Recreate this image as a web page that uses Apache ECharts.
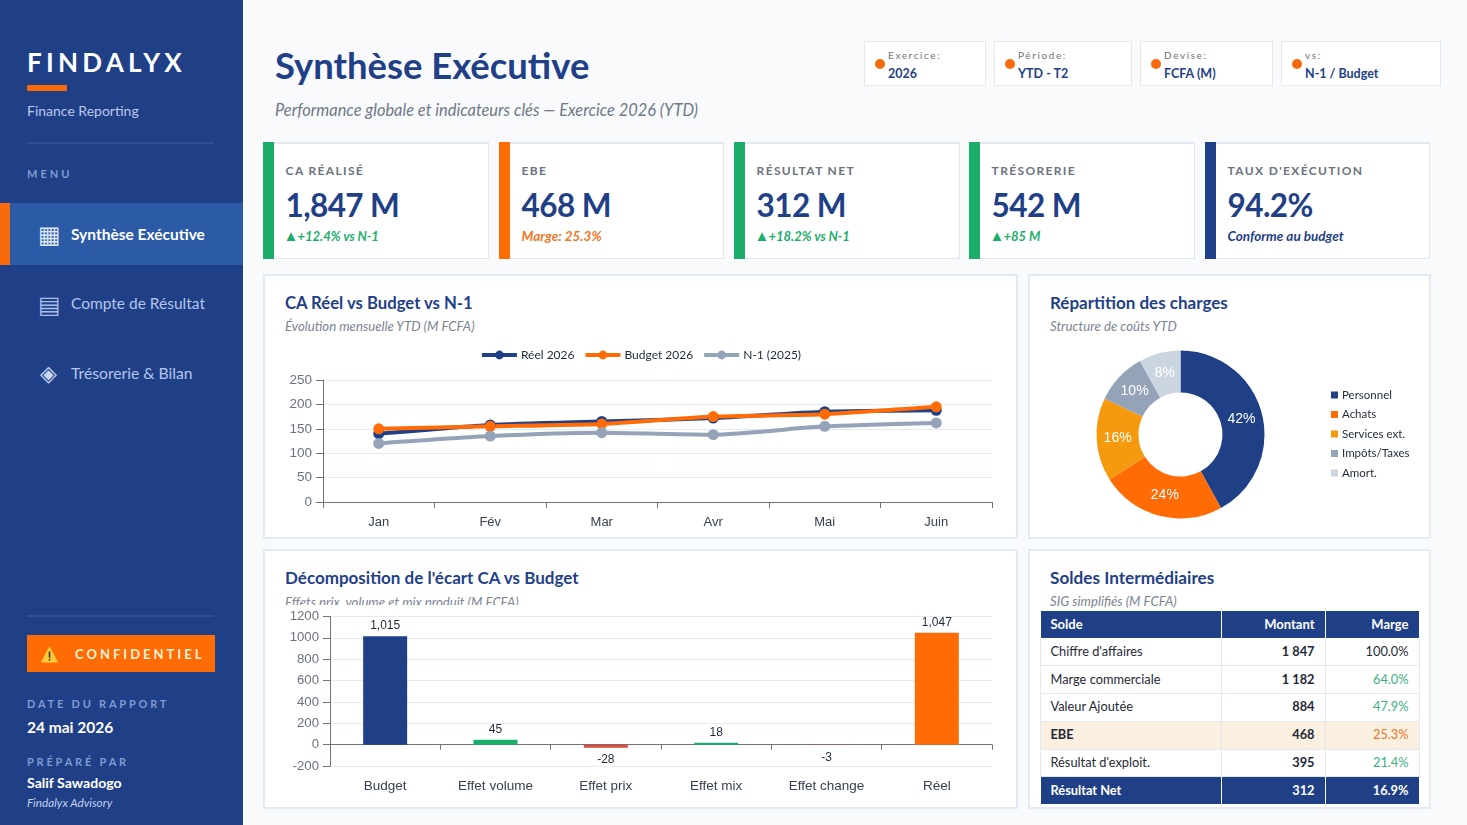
<!DOCTYPE html>
<html lang="fr">
<head>
<meta charset="utf-8">
<title>Findalyx — Synthèse Exécutive</title>
<script src="https://cdn.jsdelivr.net/npm/echarts@6/dist/echarts.min.js"></script>
<style>
*{box-sizing:border-box;margin:0;padding:0}
html,body{width:1467px;height:825px;overflow:hidden;background:#F8FAFC;font-family:Lato,sans-serif}
.abs{position:absolute;white-space:nowrap}
#side{position:absolute;left:0;top:0;width:243px;height:825px;background:#1F3F87}
.panel{position:absolute;background:#fff;border:2px solid #E4EAF2}
.chip{position:absolute;top:41px;height:45px;background:#fff;border:1px solid #E4E8EF}
.chip i{position:absolute;left:10px;top:17px;width:10px;height:10px;border-radius:50%;background:#F96A0B}
.chip b{position:absolute;left:23px;top:24px;font-size:12.5px;color:#1F3F87;font-weight:700;white-space:nowrap}
.chip span{position:absolute;left:23px;top:7px;font-size:10px;letter-spacing:1.6px;color:#6B7280;white-space:nowrap}
.kpi{position:absolute;top:142px;height:117px;background:#fff;border:1px solid #E2E8F0;border-top-width:2px}
.kpi u{position:absolute;left:-1px;top:-2px;bottom:-1px;width:11px;display:block}
.kpi .l{position:absolute;left:21.6px;top:19px;font-size:12px;font-weight:700;letter-spacing:1.35px;color:#6B7280;white-space:nowrap}
.kpi .v{position:absolute;left:21.6px;top:42px;font-size:31.5px;font-weight:700;letter-spacing:-.6px;color:#1F3F87;white-space:nowrap}
.kpi .s{position:absolute;left:21.6px;top:84px;font-size:13.5px;font-style:italic;font-weight:700;white-space:nowrap}
.kpi .s.up{font-size:13px}
.kpi .s em{font-style:normal;font-size:15px;line-height:13px;margin-left:-2px;margin-right:-1px}
.pt{font-size:17px;font-weight:700;color:#1F3F87}
.ps{font-size:13.2px;font-style:italic;color:#7B8494}
.chart{position:absolute}
table{position:absolute;left:1040px;top:610px;width:379px;border-collapse:collapse;table-layout:fixed;font-size:13px;color:#1F2937}
td,th{border:1px solid #E2E8F0;padding:0 10.5px 0 9.5px;height:27.8px;text-align:right}
td{font-size:12.8px;padding-bottom:2px}
td:first-child,th:first-child{text-align:left}
th,.tot td{background:#1F3F87;color:#fff;font-weight:700;border-color:#fff}
th{height:27.5px}
td:nth-child(2){font-weight:700}
.pos{color:#3DB27E}
.hl td{background:#FBEFE0}
.hl td:first-child{font-weight:700}
.hl td:last-child{color:#E8792B}
.tot td:last-child{color:#fff}
</style>
</head>
<body>
<div id="side"></div>
<div class="abs" style="left:27px;top:46px;font-size:26px;font-weight:700;letter-spacing:4.25px;color:#fff">FINDALYX</div>
<div class="abs" style="left:27px;top:85px;width:40px;height:6px;background:#F96A0B;border-radius:1px"></div>
<div class="abs" style="left:27px;top:102px;font-size:14px;color:#B9C9E8">Finance Reporting</div>
<div class="abs" style="left:27px;top:142px;width:187px;height:2px;background:#2B5299"></div>
<div class="abs" style="left:27px;top:167px;font-size:11px;font-weight:700;letter-spacing:3px;color:#7F9BD1">MENU</div>
<div class="abs" style="left:0;top:203px;width:243px;height:62px;background:#2B5AA6"></div>
<div class="abs" style="left:0;top:203px;width:10px;height:62px;background:#F96A0B"></div>
<div class="abs" style="left:38px;top:222px;font-size:24px;line-height:26px;color:#DCE6F7;font-family:'DejaVu Sans'">▦</div>
<div class="abs" style="left:71px;top:225px;font-size:15.5px;font-weight:700;color:#fff">Synthèse Exécutive</div>
<div class="abs" style="left:38px;top:292px;font-size:24px;line-height:26px;color:#A9BEE6;font-family:'DejaVu Sans'">▤</div>
<div class="abs" style="left:71px;top:294px;font-size:15.5px;color:#B4C7EC">Compte de Résultat</div>
<div class="abs" style="left:40px;top:361px;font-size:22px;line-height:26px;color:#C7D6F2;font-family:'DejaVu Sans'">◈</div>
<div class="abs" style="left:71px;top:364px;font-size:15.7px;color:#B4C7EC">Trésorerie &amp; Bilan</div>
<div class="abs" style="left:27px;top:615px;width:187px;height:2px;background:#2B5299"></div>
<div class="abs" style="left:27px;top:635px;width:188px;height:37px;background:#FF6B05"></div>
<svg class="abs" style="left:41px;top:646px" width="17" height="17" viewBox="0 0 17 17">
  <path d="M8.5 1 L16.5 16 L0.5 16 Z" fill="#FFC93C" stroke="#FFC93C" stroke-linejoin="round"/>
  <rect x="7.7" y="5.5" width="1.7" height="6.2" fill="#4A3A10"/>
  <rect x="7.7" y="12.8" width="1.7" height="1.7" fill="#4A3A10"/>
</svg>
<div class="abs" style="left:75px;top:646px;font-size:13px;font-weight:700;letter-spacing:3px;color:#FFF3D6">CONFIDENTIEL</div>
<div class="abs" style="left:27px;top:697px;font-size:11px;font-weight:700;letter-spacing:2.78px;color:#7F9BD1">DATE DU RAPPORT</div>
<div class="abs" style="left:27px;top:718px;font-size:15.5px;font-weight:700;color:#fff">24 mai 2026</div>
<div class="abs" style="left:27px;top:755px;font-size:11px;font-weight:700;letter-spacing:2.8px;color:#7F9BD1">PRÉPARÉ PAR</div>
<div class="abs" style="left:27px;top:774px;font-size:14.1px;font-weight:700;color:#fff">Salif Sawadogo</div>
<div class="abs" style="left:27px;top:795px;font-size:11.7px;font-style:italic;color:#C3D2EE">Findalyx Advisory</div>

<div class="abs" style="left:275px;top:43px;font-size:36.4px;font-weight:700;color:#1F3F87">Synthèse Exécutive</div>
<div class="abs" style="left:275px;top:100px;font-size:16.4px;font-style:italic;color:#6F7888">Performance globale et indicateurs clés — Exercice 2026 (YTD)</div>

<div class="chip" style="left:864px;width:122px"><i></i><span>Exercice:</span><b>2026</b></div>
<div class="chip" style="left:994px;width:138px"><i></i><span>Période:</span><b>YTD - T2</b></div>
<div class="chip" style="left:1140px;width:133px"><i></i><span>Devise:</span><b>FCFA (M)</b></div>
<div class="chip" style="left:1281px;width:160px"><i></i><span>vs:</span><b>N-1 / Budget</b></div>

<div class="kpi" style="left:263px;width:226px"><u style="background:#1BAE6B"></u><div class="l">CA RÉALISÉ</div><div class="v">1,847 M</div><div class="s up" style="color:#1BAE6B"><em>▲</em>+12.4% vs N-1</div></div>
<div class="kpi" style="left:499px;width:225px"><u style="background:#FF6B05"></u><div class="l">EBE</div><div class="v">468 M</div><div class="s" style="color:#F0761F">Marge: 25.3%</div></div>
<div class="kpi" style="left:734px;width:226px"><u style="background:#1BAE6B"></u><div class="l">RÉSULTAT NET</div><div class="v">312 M</div><div class="s up" style="color:#1BAE6B"><em>▲</em>+18.2% vs N-1</div></div>
<div class="kpi" style="left:969px;width:226px"><u style="background:#1BAE6B"></u><div class="l">TRÉSORERIE</div><div class="v">542 M</div><div class="s up" style="color:#1BAE6B"><em>▲</em>+85 M</div></div>
<div class="kpi" style="left:1205px;width:225px"><u style="background:#1F3F87"></u><div class="l">TAUX D'EXÉCUTION</div><div class="v">94.2%</div><div class="s" style="color:#1F3F87">Conforme au budget</div></div>

<div class="panel" style="left:263px;top:274px;width:755px;height:265px"></div>
<div class="panel" style="left:1028px;top:274px;width:403px;height:265px"></div>
<div class="panel" style="left:263px;top:549px;width:755px;height:260px"></div>
<div class="panel" style="left:1028px;top:549px;width:403px;height:260px"></div>

<div class="abs pt" style="left:285px;top:293px;font-size:16.7px">CA Réel vs Budget vs N-1</div>
<div class="abs ps" style="left:285px;top:318px">Évolution mensuelle YTD (M FCFA)</div>
<div class="abs pt" style="left:1050px;top:292px">Répartition des charges</div>
<div class="abs ps" style="left:1050px;top:318px">Structure de coûts YTD</div>
<div class="abs pt" style="left:285px;top:567px">Décomposition de l'écart CA vs Budget</div>
<div class="abs ps" style="left:285px;top:593.5px">Effets prix, volume et mix produit (M FCFA)</div>
<div class="abs pt" style="left:1050px;top:567px;font-size:17.2px">Soldes Intermédiaires</div>
<div class="abs ps" style="left:1050px;top:593px">SIG simplifiés (M FCFA)</div>

<div id="lineChart" class="chart" style="left:265px;top:340px;width:751px;height:197px"></div>
<div id="pieChart" class="chart" style="left:1030px;top:340px;width:399px;height:197px"></div>
<div id="barChart" class="chart" style="left:265px;top:605px;width:751px;height:202px"></div>

<table id="sig">
<colgroup><col style="width:181px"><col style="width:104px"><col style="width:94px"></colgroup>
<thead><tr><th>Solde</th><th>Montant</th><th>Marge</th></tr></thead>
<tbody id="sigBody"></tbody>
</table>

<script>
// Chiffre d'affaires mensuel
const months = ['Jan', 'Fév', 'Mar', 'Avr', 'Mai', 'Juin'];
const reel2026 = [140, 158, 165, 172, 185, 188];
const budget2026 = [150, 155, 160, 175, 180, 195];
const n1_2025 = [120, 135, 142, 138, 155, 162];

// Structure des charges
const chargeNames = ['Personnel', 'Achats', 'Services ext.', 'Impôts/Taxes', 'Amort.'];
const chargeShares = [42, 24, 16, 10, 8];
const chargeColors = ['#1F3F87', '#FF6B05', '#F59A0E', '#94A3B8', '#CBD5E1'];

// Décomposition de l'écart
const ecartLabels = ['Budget', 'Effet volume', 'Effet prix', 'Effet mix', 'Effet change', 'Réel'];
const ecartValues = [1015, 45, -28, 18, -3, 1047];
const ecartColors = ['#1F3F87', '#1BAE6B', '#E04B3A', '#1BAE6B', '#E04B3A', '#FF6B05'];

// Soldes intermédiaires de gestion
const sigNames = ["Chiffre d'affaires", 'Marge commerciale', 'Valeur Ajoutée', 'EBE', "Résultat d'exploit.", 'Résultat Net'];
const sigAmounts = ['1 847', '1 182', '884', '468', '395', '312'];
const sigMargins = ['100.0%', '64.0%', '47.9%', '25.3%', '21.4%', '16.9%'];

const AXIS_FONT = 'Liberation Sans';
const gridLine = { show: true, lineStyle: { color: '#E5E9F0', width: 1 } };
const axisStroke = { color: '#6B7280', width: 1 };

const lineSeries = (name, data, color) => ({
  name, data, type: 'line', smooth: 0.2, symbol: 'circle', symbolSize: 11,
  lineStyle: { color, width: 4 }, itemStyle: { color }
});

echarts.init(document.getElementById('lineChart')).setOption({
  animation: false,
  legend: {
    top: 4, left: 'center', itemWidth: 35, itemHeight: 11, itemGap: 9,
    lineStyle: { width: 4 },
    textStyle: { fontFamily: 'Lato', fontSize: 12, color: '#1F2937', padding: [0, 0, 0, -1] },
    data: ['Réel 2026', 'Budget 2026', 'N-1 (2025)']
  },
  grid: { left: 58, right: 24, top: 40, bottom: 35, outerBoundsMode: 'none' },
  xAxis: {
    type: 'category', data: months,
    axisLine: { lineStyle: axisStroke },
    axisTick: { show: true, length: 6, alignWithLabel: false, lineStyle: axisStroke },
    axisLabel: { fontFamily: AXIS_FONT, fontSize: 13, color: '#374151', margin: 14 }
  },
  yAxis: {
    type: 'value', min: 0, max: 250, interval: 50,
    axisLine: { show: true, lineStyle: axisStroke },
    axisTick: { show: true, length: 7, lineStyle: axisStroke },
    axisLabel: { fontFamily: AXIS_FONT, fontSize: 13.5, color: '#6B7280', margin: 11 },
    splitLine: gridLine
  },
  series: [
    lineSeries('Réel 2026', reel2026, '#1F3F87'),
    lineSeries('Budget 2026', budget2026, '#FF6B05'),
    lineSeries('N-1 (2025)', n1_2025, '#94A3B8')
  ]
});

// Rapproche chaque étiquette du centre de l'anneau
const shareTotal = chargeShares.reduce((a, b) => a + b, 0);
let cumulated = 0;
const pieData = chargeNames.map((name, i) => {
  const mid = (cumulated + chargeShares[i] / 2) / shareTotal * 2 * Math.PI;
  cumulated += chargeShares[i];
  return {
    name, value: chargeShares[i],
    itemStyle: { color: chargeColors[i] },
    label: { offset: [-3 * Math.sin(mid), 3 * Math.cos(mid)] }
  };
});

echarts.init(document.getElementById('pieChart')).setOption({
  animation: false,
  legend: {
    orient: 'vertical', left: 296, top: 44, itemWidth: 7, itemHeight: 7, itemGap: 7.5,
    icon: 'rect',
    textStyle: { fontFamily: 'Lato', fontSize: 11.5, color: '#1F2937', padding: [0, 0, 0, -1] },
    data: chargeNames
  },
  series: [{
    type: 'pie', center: [150.5, 94.5], radius: [42, 84], startAngle: 90,
    label: {
      position: 'inside', formatter: '{c}%', color: '#fff',
      fontFamily: AXIS_FONT, fontSize: 14
    },
    labelLine: { show: false },
    data: pieData
  }]
});

echarts.init(document.getElementById('barChart')).setOption({
  animation: false,
  backgroundColor: '#fff',
  grid: { left: 65, right: 24, top: 11.5, bottom: 41, outerBoundsMode: 'none' },
  xAxis: {
    type: 'category', data: ecartLabels,
    axisLine: { onZero: true, lineStyle: axisStroke },
    axisTick: { show: true, length: 5, lineStyle: axisStroke },
    axisLabel: { fontFamily: AXIS_FONT, fontSize: 13.5, color: '#374151', margin: 13 }
  },
  yAxis: {
    type: 'value', min: -200, max: 1200, interval: 200,
    axisLine: { show: true, lineStyle: axisStroke },
    axisTick: { show: true, length: 7, lineStyle: axisStroke },
    axisLabel: { fontFamily: AXIS_FONT, fontSize: 13.2, color: '#6B7280', margin: 11, formatter: v => String(v) },
    splitLine: gridLine
  },
  series: [{
    type: 'bar', barWidth: 44,
    data: ecartValues.map((value, i) => ({
      value,
      itemStyle: { color: ecartColors[i] },
      label: { position: value < 0 ? 'bottom' : 'top', distance: value < 0 ? 6.5 : 4.5 }
    })),
    label: {
      show: true, fontFamily: AXIS_FONT, fontSize: 12, color: '#1F2937',
      formatter: p => p.value.toLocaleString('en-US')
    }
  }]
});

// Lignes du tableau des soldes
document.getElementById('sigBody').innerHTML = sigNames.map((name, i) => {
  const cls = i === 3 ? 'hl' : i === 5 ? 'tot' : '';
  const marginCls = i > 0 && i !== 3 && i !== 5 ? 'pos' : '';
  return `<tr class="${cls}"><td>${name}</td><td>${sigAmounts[i]}</td><td class="${marginCls}">${sigMargins[i]}</td></tr>`;
}).join('');
</script>
</body>
</html>
